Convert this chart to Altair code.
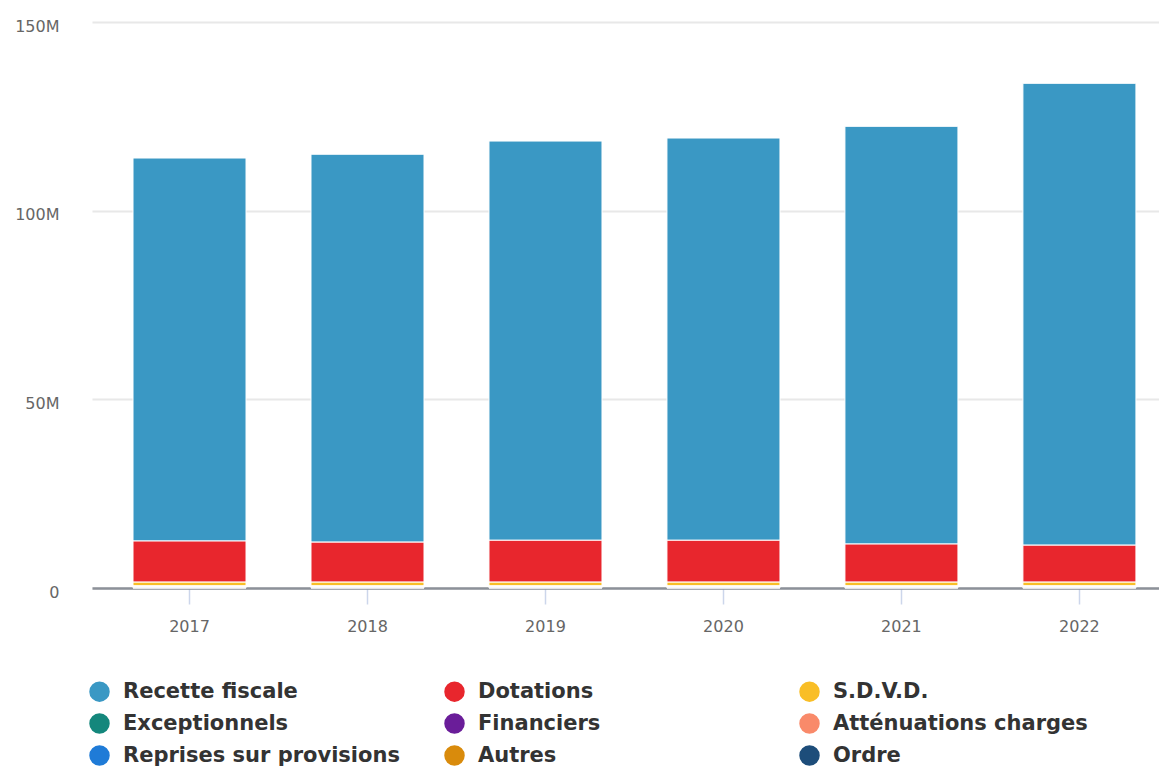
import altair as alt
import pandas as pd

years = ["2017", "2018", "2019", "2020", "2021", "2022"]
series = ["Recette fiscale", "Dotations", "S.D.V.D.", "Exceptionnels", "Financiers",
          "Atténuations charges", "Reprises sur provisions", "Autres", "Ordre"]
colors = ["#3a98c4", "#e8262d", "#f9be26", "#14877c", "#6a1d99",
          "#f98a6a", "#1f7bd7", "#d98b0c", "#1d4d7a"]

# values in millions of euros
recette_fiscale = [101.5, 102.8, 105.8, 106.6, 110.7, 122.4]
dotations = [10.9, 10.6, 11.1, 11.1, 10.1, 9.8]
sdvd = [1.0, 1.0, 1.0, 1.0, 1.0, 1.0]
exceptionnels = [0.1, 0.1, 0.1, 0.1, 0.1, 0.1]
financiers = [0.1, 0.1, 0.1, 0.1, 0.1, 0.1]
attenuations = [0.15, 0.15, 0.15, 0.15, 0.15, 0.15]
reprises = [0.05, 0.05, 0.05, 0.05, 0.05, 0.05]
autres = [0.1, 0.1, 0.1, 0.1, 0.1, 0.1]
ordre = [0.05, 0.05, 0.05, 0.05, 0.05, 0.05]

all_values = [recette_fiscale, dotations, sdvd, exceptionnels, financiers,
              attenuations, reprises, autres, ordre]

rows = []
for si, (name, vals) in enumerate(zip(series, all_values)):
    for y, v in zip(years, vals):
        rows.append({"annee": y, "serie": name, "valeur": v * 1e6,
                     "ordre_pile": len(series) - si})
df = pd.DataFrame(rows)

chart = alt.Chart(df).mark_bar(stroke="white", strokeWidth=1).encode(
    x=alt.X("annee:N", title=None, sort=years,
            scale=alt.Scale(paddingInner=0.365, paddingOuter=0.18, align=0.64),
            axis=alt.Axis(labelAngle=0, labelFont="DejaVu Sans", labelFontSize=16,
                          labelColor="#666666", domainColor="#8c9199", domainWidth=2.5,
                          tickColor="#ccd6eb", tickSize=16, tickWidth=1.5,
                          labelPadding=14, grid=False)),
    y=alt.Y("valeur:Q", title=None, stack="zero",
            scale=alt.Scale(domain=[0, 150e6], nice=False),
            axis=alt.Axis(values=[0, 50e6, 100e6, 150e6],
                          labelExpr="datum.value == 0 ? '0' : format(datum.value, '~s')",
                          labelFont="DejaVu Sans", labelFontSize=16,
                          labelColor="#666666", domain=False, ticks=False,
                          labelPadding=33, labelOffset=4,
                          gridColor="#e8e8e8", gridWidth=2)),
    color=alt.Color("serie:N", sort=series,
                    scale=alt.Scale(domain=series, range=colors),
                    legend=alt.Legend(title=None, orient="none", legendX=-3, legendY=659,
                                      direction="horizontal",
                                      columns=3, gridAlign="all", columnPadding=44,
                                      rowPadding=10, symbolType="circle", symbolSize=420,
                                      symbolStrokeWidth=0, symbolOpacity=1,
                                      labelFont="DejaVu Sans", labelFontWeight="bold",
                                      labelFontSize=21, labelColor="#333333",
                                      labelOffset=13, labelLimit=400, padding=0)),
    order=alt.Order("ordre_pile:Q", sort="ascending"),
).properties(
    width=1067, height=566,
    autosize=alt.AutoSizeParams(type="none"),
    padding={"left": 84, "top": 14, "right": 0, "bottom": 180},
).configure_view(strokeWidth=0)

chart.save("out.html", embed_options={"renderer": "svg", "actions": False})
